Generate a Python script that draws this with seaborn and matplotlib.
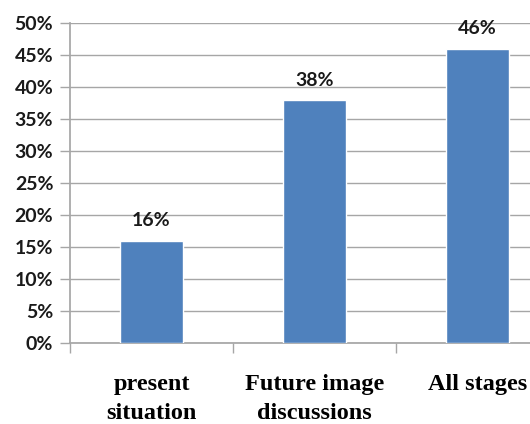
import matplotlib
matplotlib.use("Agg")
import matplotlib.pyplot as plt
import seaborn as sns
import pandas as pd
from matplotlib.ticker import FuncFormatter, MultipleLocator

categories = ["present\nsituation", "Future image\ndiscussions", "All stages"]
values = [16, 38, 46]
value_labels = ["16%", "38%", "46%"]

sns.set_theme(style="white")
plt.rcParams['font.family'] = ['Lato', 'DejaVu Sans']

df = pd.DataFrame({"cat": categories, "val": values})

fig = plt.figure(figsize=(5.3, 4.24), dpi=100)
ax = fig.add_axes([70/530, 81/424, 460/530, 320/424])

sns.barplot(data=df, x="cat", y="val", color="#4F81BD", saturation=1, width=0.39, ax=ax, zorder=3)

ax.yaxis.set_major_locator(MultipleLocator(5))
ax.yaxis.set_major_formatter(FuncFormatter(lambda v, p: f"{int(round(v))}%"))
ax.grid(axis="y", color="#A6A6A6", linewidth=1, zorder=0)
ax.set_axisbelow(True)

for s in ["top", "right"]:
    ax.spines[s].set_visible(False)
ax.spines["left"].set_color("#A6A6A6")
ax.spines["bottom"].set_color("#A6A6A6")

ax.tick_params(axis="y", length=7, color="#A6A6A6", width=1, pad=5, labelsize=14, left=True)
ax.set_xticks([0, 1, 2])
ax.set_xticks([-0.5, 0.5, 1.5, 2.5], minor=True)
ax.tick_params(axis="x", which="major", length=0, pad=22)
ax.tick_params(axis="x", which="minor", length=7, color="#A6A6A6", width=1, bottom=True)
ax.set_xticklabels(categories, fontsize=17.5, fontweight="bold", family="Liberation Serif", color="black", linespacing=1.55)
for t in ax.get_yticklabels():
    t.set_fontweight("bold")
    t.set_color("#1a1a1a")

ax.set_ylim(0, 50)
ax.set_xlim(-0.5, -0.5 + 460/163)

ax.set_xlabel("")
ax.set_ylabel("")

for i, (v, lab) in enumerate(zip(values, value_labels)):
    ax.annotate(lab, (i, v), xytext=(0, 8), textcoords="offset points", ha="center", va="bottom",
                fontsize=14, fontweight="bold", color="#1a1a1a")

fig.savefig("out.png", dpi=100)
